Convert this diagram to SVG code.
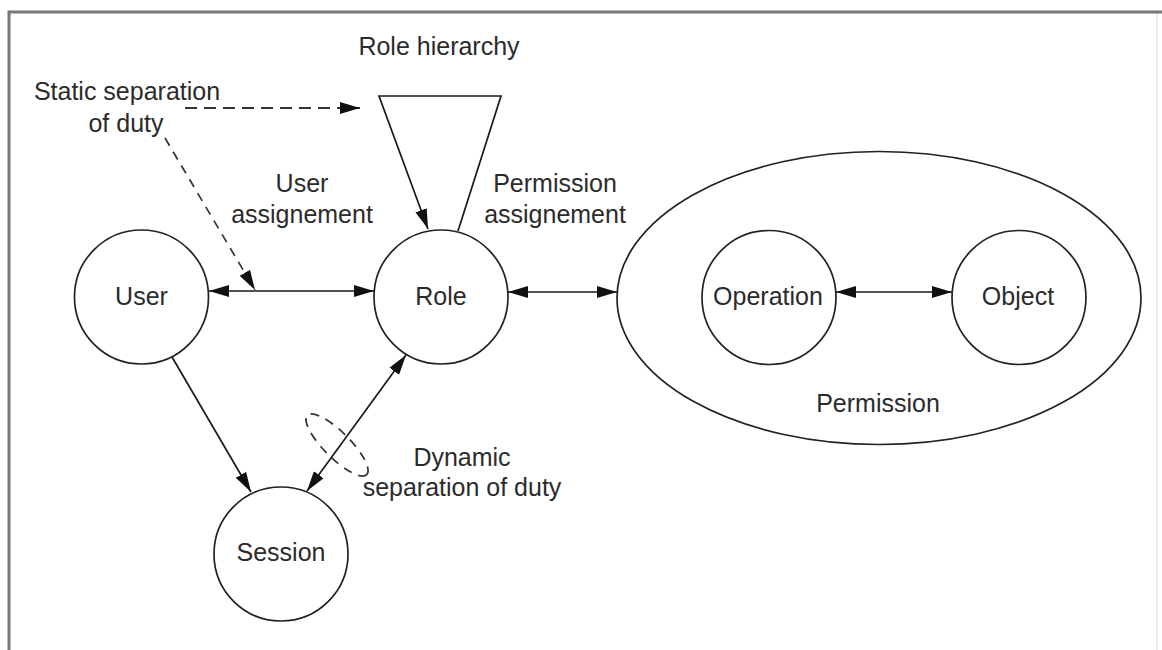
<svg xmlns="http://www.w3.org/2000/svg" width="1162" height="650" viewBox="0 0 1162 650">
<style>
  .node { fill: #fff; stroke: #222; stroke-width: 1.7; }
  .lbl { font-family: "Liberation Sans", Arial, sans-serif; font-size: 25px; fill: #2b2b2b; text-anchor: middle; }
  .conn { fill: none; stroke: #1a1a1a; stroke-width: 1.7; }
  .dash { fill: none; stroke: #333; stroke-width: 1.8; stroke-dasharray: 12 7; }
  .dash2 { fill: none; stroke: #333; stroke-width: 1.7; stroke-dasharray: 9 7; }
</style>
<defs>
  <marker id="arr" markerUnits="userSpaceOnUse" markerWidth="20" markerHeight="13" refX="20" refY="6.5" orient="auto-start-reverse">
    <path d="M0,0.5 L20,6.5 L0,12.5 z" fill="#111"/>
  </marker>
</defs>
<rect width="1162" height="650" fill="#fff"/>
<path d="M9,650 L9,12 L1162,12" fill="none" stroke="#777" stroke-width="3"/>
<line x1="1157" y1="14" x2="1157" y2="650" stroke="#e6e6e6" stroke-width="1.5"/>

<g id="user">
  <circle class="node" cx="141.5" cy="297" r="67"/>
  <text class="lbl" x="141.5" y="305">User</text>
</g>
<g id="role">
  <circle class="node" cx="441" cy="297" r="67"/>
  <text class="lbl" x="441" y="305">Role</text>
</g>
<g id="session">
  <circle class="node" cx="281" cy="554" r="67"/>
  <text class="lbl" x="281" y="561">Session</text>
</g>
<g id="permission">
  <ellipse class="node" cx="879" cy="298" rx="262" ry="146.5"/>
  <text class="lbl" x="878" y="412">Permission</text>
</g>
<g id="operation">
  <circle class="node" cx="769" cy="297.5" r="67"/>
  <text class="lbl" x="768" y="305">Operation</text>
</g>
<g id="object">
  <circle class="node" cx="1019" cy="297.5" r="67"/>
  <text class="lbl" x="1018" y="305">Object</text>
</g>

<g id="labels">
  <text class="lbl" x="439" y="55">Role hierarchy</text>
  <text class="lbl" x="127" y="100">Static separation</text>
  <text class="lbl" x="126" y="132">of duty</text>
  <text class="lbl" x="302" y="192">User</text>
  <text class="lbl" x="302" y="223">assignement</text>
  <text class="lbl" x="555" y="192">Permission</text>
  <text class="lbl" x="555" y="223">assignement</text>
  <text class="lbl" x="462" y="466">Dynamic</text>
  <text class="lbl" x="462" y="496">separation of duty</text>
</g>

<g id="connectors">
  <path class="conn" d="M458,231 L501,96 L379,96 L428,229" marker-end="url(#arr)"/>
  <line class="dash" x1="185" y1="108" x2="360" y2="108" marker-end="url(#arr)"/>
  <line class="dash2" x1="165" y1="138" x2="255" y2="290" marker-end="url(#arr)"/>
  <line class="conn" x1="209" y1="291" x2="374" y2="291" marker-start="url(#arr)" marker-end="url(#arr)"/>
  <line class="conn" x1="508" y1="292" x2="617" y2="292" marker-start="url(#arr)" marker-end="url(#arr)"/>
  <line class="conn" x1="836" y1="292" x2="952" y2="292" marker-start="url(#arr)" marker-end="url(#arr)"/>
  <line class="conn" x1="172" y1="357" x2="251" y2="492" marker-end="url(#arr)"/>
  <line class="conn" x1="307" y1="491" x2="406" y2="355" marker-start="url(#arr)" marker-end="url(#arr)"/>
  <ellipse class="dash2" cx="337" cy="445" rx="42" ry="13" transform="rotate(45 337 445)" stroke-dasharray="8 6"/>
</g>
</svg>
